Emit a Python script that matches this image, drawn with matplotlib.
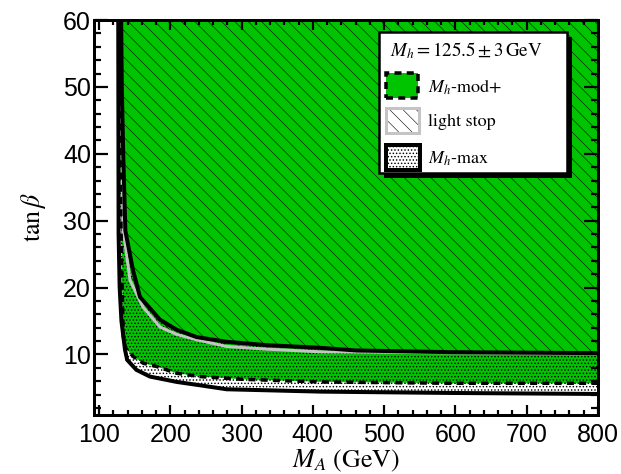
import matplotlib
matplotlib.use('Agg')
import matplotlib.pyplot as plt
from matplotlib.patches import Rectangle
from matplotlib.ticker import MultipleLocator

plt.rcParams['mathtext.fontset'] = 'stix'
plt.rcParams['font.family'] = ['Liberation Sans', 'DejaVu Sans']
plt.rcParams['hatch.linewidth'] = 0.5

# ---------------- data (M_A in GeV, tan beta) ----------------
# Mh-max: lower and upper boundary of allowed band
mhmax_low_x = [127.0, 127.5, 129.0, 131.5, 136.5, 139.5, 152.5, 171.5, 209.0, 241.5, 279.0, 411.0, 593.0, 800.0]
mhmax_low_y = [61.0, 28.0, 20.0, 15.0, 10.7, 9.2, 7.7, 6.7, 5.9, 5.4, 4.8, 4.45, 4.25, 4.1]
mhmax_up_x = [131.0, 132.0, 134.0, 137.0, 147.7, 157.5, 185.6, 209.0, 237.0, 279.0, 335.0, 410.0, 461.0, 592.0, 800.0]
mhmax_up_y = [61.0, 50.0, 40.0, 28.5, 22.6, 18.6, 15.2, 13.7, 12.6, 11.9, 11.4, 11.0, 10.6, 10.35, 10.2]
# Mh-mod+: lower boundary
modp_x = [128.5, 129.5, 131.0, 132.5, 134.1, 137.0, 148.0, 162.0, 181.0, 209.0, 241.7, 300.0, 410.0, 592.0, 800.0]
modp_y = [61.0, 40.0, 28.0, 20.0, 12.7, 11.0, 9.7, 8.7, 8.2, 7.2, 6.7, 6.3, 5.9, 5.7, 5.7]
# light stop: lower boundary
lstop_x = [129.5, 130.5, 132.0, 134.1, 143.5, 161.7, 185.6, 209.0, 237.0, 279.0, 335.0, 410.0, 592.0, 800.0]
lstop_y = [61.0, 50.0, 40.0, 28.6, 21.1, 17.1, 14.1, 13.0, 12.2, 11.2, 10.8, 10.4, 10.25, 10.1]

legend_title = r'$M_h = 125.5 \pm 3\,\mathrm{GeV}$'
legend_labels = [r'$M_h$-mod+', 'light stop', r'$M_h$-max']

GREEN = '#00c400'
GRAY = '#c4c4c4'
DOT_LW = 0.8
LINE_HATCH_LW = 0.5

DPI = 80
W, H = 621, 474
def pt(p):
    return p * 72.0 / DPI

def set_hlw(patches, lw):
    for p in patches:
        if hasattr(p, 'set_hatch_linewidth'):
            p.set_hatch_linewidth(lw)

fig = plt.figure(figsize=(W / DPI, H / DPI), dpi=DPI)
ax = fig.add_axes([94 / W, 1 - 414.7 / H, 504 / W, 394.7 / H])
ax.set_xlim(93, 800)
ax.set_ylim(1, 60)

# green region above Mh-mod+ boundary
ax.fill(modp_x + [810, 810], modp_y + [modp_y[-1], 61], facecolor=GREEN, edgecolor='none', zorder=1)
# light-stop hatched region
with plt.rc_context({'hatch.linewidth': LINE_HATCH_LW}):
    hs = ax.fill(lstop_x + [810, 810], lstop_y + [lstop_y[-1], 61], facecolor='none', edgecolor='black',
                 linewidth=0, hatch='\\\\', zorder=2)
set_hlw(hs, LINE_HATCH_LW)
# Mh-max dotted band
band_x = mhmax_low_x + [810, 810] + mhmax_up_x[::-1]
band_y = mhmax_low_y + [mhmax_low_y[-1], mhmax_up_y[-1]] + mhmax_up_y[::-1]
with plt.rc_context({'hatch.linewidth': DOT_LW}):
    ds = ax.fill(band_x, band_y, facecolor='none', edgecolor='black', linewidth=0, hatch='....', zorder=3)
set_hlw(ds, DOT_LW)

# boundary lines
ax.plot(lstop_x, lstop_y, color=GRAY, lw=pt(3), zorder=4, solid_joinstyle='miter')
ax.plot(modp_x, modp_y, color='black', lw=pt(3.5), ls=(0, (2.0, 1.5)), zorder=5)
ax.plot(mhmax_low_x, mhmax_low_y, color='black', lw=pt(4), zorder=6, solid_joinstyle='miter')
ax.plot(mhmax_up_x, mhmax_up_y, color='black', lw=pt(4), zorder=6, solid_joinstyle='miter')

# axes styling
ax.xaxis.set_major_locator(MultipleLocator(100))
ax.xaxis.set_minor_locator(MultipleLocator(20))
ax.yaxis.set_major_locator(MultipleLocator(10))
ax.yaxis.set_minor_locator(MultipleLocator(2))
ax.tick_params(which='both', direction='in', top=True, right=True, width=pt(2.2), colors='black')
ax.tick_params(axis='x', which='major', length=pt(10), labelsize=pt(25), pad=pt(8))
ax.tick_params(axis='x', which='minor', length=pt(5))
ax.tick_params(axis='y', which='major', length=pt(14), labelsize=pt(25), pad=pt(3))
ax.tick_params(axis='y', which='minor', length=pt(7))
for s in ax.spines.values():
    s.set_linewidth(pt(3))
    s.set_zorder(10)

ax.set_xlabel(r'$M_A$ (GeV)', fontfamily='STIXGeneral', fontsize=pt(26), labelpad=pt(1))
ax.set_ylabel(r'$\tan\beta$', fontfamily='STIXGeneral', fontsize=pt(26), labelpad=pt(15))

# ---------------- legend (drawn in figure pixel coordinates) ----------------
def fr(x0, y0, x1, y1):
    return (x0 / W, 1 - y1 / H), (x1 - x0) / W, (y1 - y0) / H

xy, w, h = fr(384, 37, 572, 178)
fig.add_artist(Rectangle(xy, w, h, transform=fig.transFigure, facecolor='black', edgecolor='none', zorder=20))
xy, w, h = fr(379, 32, 567, 173)
fig.add_artist(Rectangle(xy, w, h, transform=fig.transFigure, facecolor='white', edgecolor='black',
                         lw=pt(2.5), zorder=21))
fig.text(390 / W, 1 - 56 / H, legend_title, fontfamily='STIXGeneral', fontsize=pt(19),
         va='baseline', ha='left', zorder=22)

xy, w, h = fr(386, 73, 418, 98)
fig.add_artist(Rectangle(xy, w, h, transform=fig.transFigure, facecolor=GREEN, edgecolor='black',
                         lw=pt(3.5), ls=(0, (2.0, 1.5)), zorder=22))
xy, w, h = fr(386, 108, 419, 133)
with plt.rc_context({'hatch.linewidth': LINE_HATCH_LW}):
    r = Rectangle(xy, w, h, transform=fig.transFigure, facecolor='white', edgecolor='black',
                  lw=0, hatch='\\\\', zorder=22)
set_hlw([r], LINE_HATCH_LW)
fig.add_artist(r)
fig.add_artist(Rectangle(xy, w, h, transform=fig.transFigure, facecolor='none', edgecolor=GRAY,
                         lw=pt(3), zorder=23))
xy, w, h = fr(386, 145, 420, 170)
with plt.rc_context({'hatch.linewidth': DOT_LW}):
    r = Rectangle(xy, w, h, transform=fig.transFigure, facecolor='white', edgecolor='black',
                  lw=pt(4), hatch='....', zorder=22)
set_hlw([r], DOT_LW)
fig.add_artist(r)

for lab, yc in zip(legend_labels, [85, 120, 157]):
    fig.text(428 / W, 1 - yc / H, lab, fontfamily='STIXGeneral', fontsize=pt(18),
             va='center_baseline', ha='left', zorder=22)

fig.savefig('out.png', dpi=DPI)
